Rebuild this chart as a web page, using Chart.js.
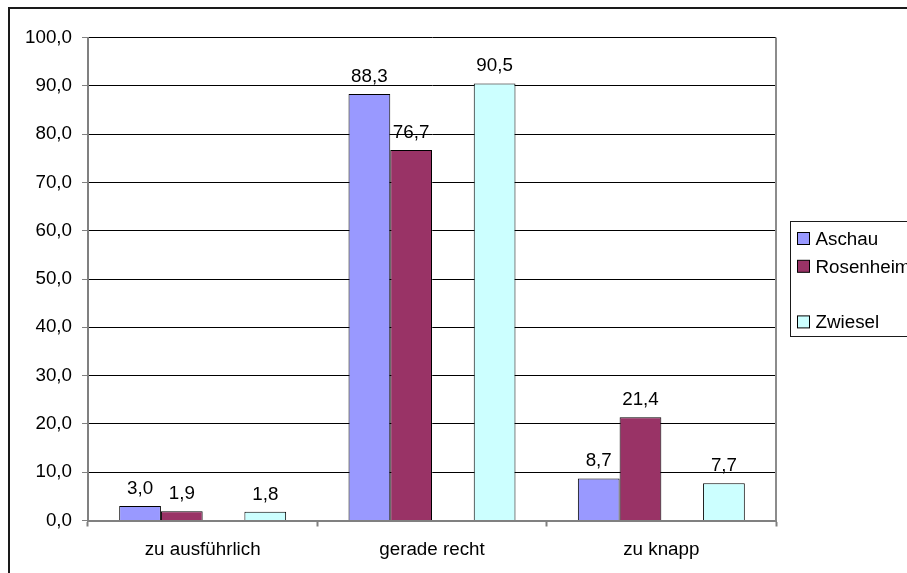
<!DOCTYPE html>
<html>
<head>
<meta charset="utf-8">
<script src="https://cdn.jsdelivr.net/npm/chart.js@4/dist/chart.umd.min.js"></script>
<style>
  html, body { margin: 0; padding: 0; background: #fff; }
  #wrap { width: 907px; height: 573px; position: relative; }
</style>
</head>
<body>
<div id="wrap"><canvas id="c" width="907" height="573"></canvas></div>
<script>
// Categories and series values (percent)
const categories = ['zu ausführlich', 'gerade recht', 'zu knapp'];
const seriesNames = ['Aschau', 'Rosenheim', '', 'Zwiesel'];
const aschau    = [3.0, 88.3, 8.7];
const rosenheim = [1.9, 76.7, 21.4];
const leer      = [null, null, null];
const zwiesel   = [1.8, 90.5, 7.7];
const yTicks    = [0, 10, 20, 30, 40, 50, 60, 70, 80, 90, 100];

const FONT = "'Liberation Sans', Arial, sans-serif";
const FS = 18.8;
const fmt = v => v.toFixed(1).replace('.', ',');

const colors = {
  Aschau:    { bg: '#9999FF', border: '#000000' },
  Rosenheim: { bg: '#993366', border: '#000000' },
  '':        { bg: 'rgba(0,0,0,0)', border: 'rgba(0,0,0,0)' },
  Zwiesel:   { bg: '#CCFFFF', border: '#000000' }
};

const seriesData = [aschau, rosenheim, leer, zwiesel];
const datasets = seriesNames.map((name, i) => ({
  label: name,
  data: seriesData[i],
  backgroundColor: colors[name].bg,
  borderColor: colors[name].border,
  borderWidth: 1,
  categoryPercentage: 0.728,
  barPercentage: 1.0
}));

// White page with the outer chart frame
const framePlugin = {
  id: 'frame',
  beforeDraw(chart) {
    const ctx = chart.ctx;
    ctx.save();
    ctx.fillStyle = '#fff';
    ctx.fillRect(0, 0, chart.width, chart.height);
    ctx.strokeStyle = '#1a1a1a';
    ctx.lineWidth = 2;
    ctx.strokeRect(9, 8, 2000, 2000);
    ctx.restore();
  },
  beforeDatasetsDraw(chart) {
    // grey plot-area edge on the right
    const { ctx, chartArea } = chart;
    ctx.save();
    ctx.strokeStyle = '#8c8c8c';
    ctx.lineWidth = 2;
    ctx.beginPath();
    ctx.moveTo(chartArea.right, chartArea.top);
    ctx.lineTo(chartArea.right, chartArea.bottom);
    ctx.stroke();
    ctx.restore();
  }
};

// Value labels above each bar
const valueLabels = {
  id: 'valueLabels',
  afterDatasetsDraw(chart) {
    const ctx = chart.ctx;
    ctx.save();
    ctx.font = FS + 'px ' + FONT;
    ctx.fillStyle = '#000';
    ctx.textAlign = 'center';
    ctx.textBaseline = 'alphabetic';
    chart.data.datasets.forEach((ds, di) => {
      const meta = chart.getDatasetMeta(di);
      meta.data.forEach((el, i) => {
        const v = ds.data[i];
        if (v === null || v === undefined) return;
        ctx.fillText(fmt(v), el.x, el.y - 12);
      });
    });
    ctx.restore();
  }
};

// Boxed legend on the right
const boxLegend = {
  id: 'boxLegend',
  afterDraw(chart) {
    const ctx = chart.ctx;
    const x0 = 790.5, y0 = 221.5, h = 115;
    ctx.save();
    ctx.fillStyle = '#fff';
    ctx.fillRect(x0, y0, 300, h);
    ctx.strokeStyle = '#1a1a1a';
    ctx.lineWidth = 1;
    ctx.strokeRect(x0, y0, 300, h);
    ctx.font = FS + 'px ' + FONT;
    ctx.textAlign = 'left';
    ctx.textBaseline = 'alphabetic';
    const rowH = 27.8;
    chart.data.datasets.forEach((ds, i) => {
      const base = 245 + i * rowH;
      ctx.fillStyle = ds.backgroundColor;
      ctx.fillRect(797.5, base - 12.5, 12, 12);
      ctx.strokeStyle = ds.borderColor;
      ctx.strokeRect(797.5, base - 12.5, 12, 12);
      ctx.fillStyle = '#000';
      ctx.fillText(ds.label, 815.5, base);
    });
    ctx.restore();
  }
};

new Chart(document.getElementById('c'), {
  type: 'bar',
  data: { labels: categories, datasets },
  plugins: [framePlugin, valueLabels, boxLegend],
  options: {
    responsive: false,
    animation: false,
    devicePixelRatio: 1,
    layout: { padding: { left: 9, top: 37.5, right: 131, bottom: 0 } },
    plugins: { legend: { display: false }, tooltip: { enabled: false } },
    scales: {
      x: {
        afterFit(s) { s.height = 52.5; },
        grid: {
          display: true, offset: true, drawOnChartArea: false,
          drawTicks: true, tickLength: 6, tickColor: '#808080', tickWidth: 2
        },
        border: { display: true, color: '#808080', width: 2 },
        ticks: { color: '#000', font: { family: FONT, size: FS }, padding: 12, maxRotation: 0 }
      },
      y: {
        min: 0, max: 100,
        afterFit(s) { s.width = 79; },
        afterBuildTicks(s) { s.ticks = yTicks.map(v => ({ value: v })); },
        grid: {
          color: '#000', lineWidth: 1,
          drawTicks: true, tickLength: 6, tickColor: '#808080', tickWidth: 1
        },
        border: { display: true, color: '#808080', width: 2 },
        ticks: {
          color: '#000', font: { family: FONT, size: FS }, padding: 10,
          callback: v => fmt(v)
        }
      }
    }
  }
});
</script>
</body>
</html>
